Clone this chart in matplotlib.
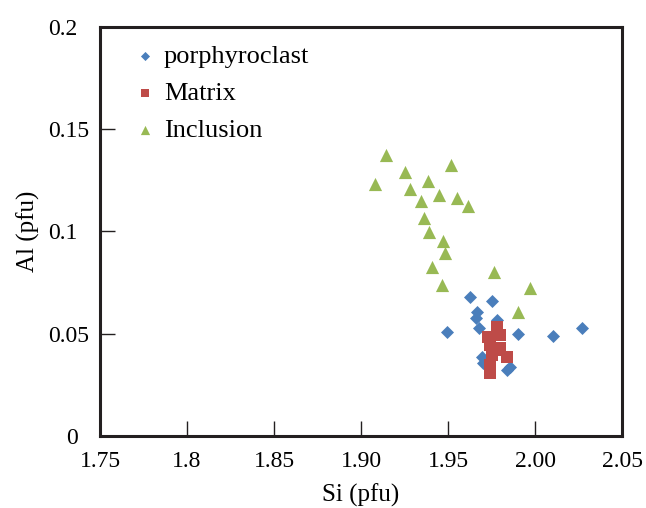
import matplotlib
matplotlib.use("Agg")
import matplotlib.pyplot as plt
from matplotlib.transforms import ScaledTranslation

plt.rcParams['font.family'] = ['Liberation Serif', 'DejaVu Serif']

# porphyroclast (diamonds)
por_si = [1.9626, 1.9753, 1.9667, 1.9661, 1.9494, 1.9678, 1.9782, 1.9902,
          2.0103, 2.0270, 1.9695, 1.9701, 1.9839, 1.9856]
por_al = [0.0680, 0.0660, 0.0606, 0.0577, 0.0509, 0.0528, 0.0567, 0.0499,
          0.0489, 0.0528, 0.0386, 0.0357, 0.0323, 0.0337]

# matrix (squares)
mat_si = [1.9782, 1.9730, 1.9799, 1.9741, 1.9799, 1.9753, 1.9839, 1.9741,
          1.9741, 1.9776]
mat_al = [0.0533, 0.0484, 0.0494, 0.0445, 0.0430, 0.0396, 0.0386, 0.0347,
          0.0308, 0.0421]

# inclusion (triangles)
inc_si = [1.9144, 1.9517, 1.9253, 1.9080, 1.9385, 1.9282, 1.9448, 1.9552,
          1.9345, 1.9615, 1.9362, 1.9391, 1.9471, 1.9483, 1.9408, 1.9764,
          1.9465, 1.9971, 1.9902]
inc_al = [0.1374, 0.1325, 0.1291, 0.1232, 0.1247, 0.1208, 0.1178, 0.1164,
          0.1149, 0.1125, 0.1066, 0.0998, 0.0954, 0.0895, 0.0826, 0.0802,
          0.0738, 0.0724, 0.0606]

x_ticks = [1.75, 1.8, 1.85, 1.90, 1.95, 2.00, 2.05]
x_labels = ["1.75", "1.8", "1.85", "1.90", "1.95", "2.00", "2.05"]
y_ticks = [0, 0.05, 0.1, 0.15, 0.2]
y_labels = ["0", "0.05", "0.1", "0.15", "0.2"]

fig = plt.figure(figsize=(6.46, 5.08), dpi=100)
ax = fig.add_axes([0.1548, 0.1417, 0.8082, 0.8052])

ax.scatter(por_si, por_al, marker='D', s=44, color='#4A7EBB', linewidths=0,
           label='porphyroclast', zorder=3)
ax.scatter(mat_si, mat_al, marker='s', s=70, color='#BE4B48', linewidths=0,
           label='Matrix', zorder=4)
ax.scatter(inc_si, inc_al, marker='^', s=90, color='#98B954', linewidths=0,
           label='Inclusion', zorder=2)

ax.set_xlim(1.75, 2.05)
ax.set_ylim(0, 0.2)
ax.set_xticks(x_ticks)
ax.set_xticklabels(x_labels)
ax.set_yticks(y_ticks)
ax.set_yticklabels(y_labels, ha='left')
ax.tick_params(direction='in', length=11, width=1, labelsize=17,
               top=False, right=False, color='#231f20')
ax.tick_params(axis='x', pad=10.5)
ax.tick_params(axis='y', pad=37)

# the "0" label sits further right than the others
zero = ax.get_yticklabels()[0]
zero.set_transform(zero.get_transform() + ScaledTranslation(0.18, 0, fig.dpi_scale_trans))

for sp in ax.spines.values():
    sp.set_linewidth(2.2)
    sp.set_color('#231f20')

ax.set_xlabel("Si (pfu)", fontsize=18, labelpad=8.5)
ax.set_ylabel("Al (pfu)", fontsize=18, labelpad=6)

ax.legend(loc='upper left', bbox_to_anchor=(0.04, 0.982), borderaxespad=0,
          frameon=False, fontsize=19, markerscale=0.7,
          handletextpad=0.23, labelspacing=0.5, handlelength=1.0)

fig.savefig("out.png", dpi=100)
